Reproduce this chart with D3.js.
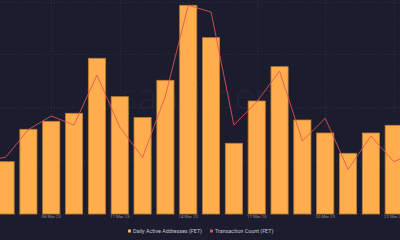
<!DOCTYPE html>
<html>
<head>
<meta charset="utf-8">
<script src="https://cdn.jsdelivr.net/npm/d3@7"></script>
<style>
  html, body { margin: 0; padding: 0; background: #1b1d2e; }
  svg { display: block; }
</style>
</head>
<body>
<svg width="400" height="240"></svg>
<script>
// dates shown (the chart is cropped, first and last day sit off the edges)
var dates = ["05 Mar 23","06 Mar 23","07 Mar 23","08 Mar 23","09 Mar 23","10 Mar 23","11 Mar 23",
             "12 Mar 23","13 Mar 23","14 Mar 23","15 Mar 23","16 Mar 23","17 Mar 23","18 Mar 23",
             "19 Mar 23","20 Mar 23","21 Mar 23","22 Mar 23","23 Mar 23","24 Mar 23"]
var tickDates = ["08 Mar 23","11 Mar 23","14 Mar 23","17 Mar 23","20 Mar 23","23 Mar 23"]

var activeAddresses = [560, 523, 847, 927, 1007, 1557, 1173, 965, 1337, 2087,
                       1763, 707, 1130, 1473, 940, 810, 607, 810, 887, 900]
var txCount = [1060, 1134, 1690, 1960, 1780, 2780, 1740, 1130, 2360, 4174,
               4040, 1780, 2240, 2860, 1460, 1914, 894, 1560, 1046, 1240]

var width = 400
var height = 240
var bottom = 214

var svg = d3.select("svg")

var x = d3.scaleBand()
    .domain(dates)
    .range([-28.65, 427.95])
    .paddingInner(0.25)
    .paddingOuter(0.125)

var yBar = d3.scaleLinear().domain([0, 2140]).range([bottom, 0])
var yLine = d3.scaleLinear().domain([0, 4280]).range([bottom, 0])

// faint dotted grid
var grid = svg.append("g")
grid.selectAll("line.h")
    .data([0, 535, 1070, 1605, 2120])
    .enter().append("line")
    .attr("x1", 0).attr("x2", width)
    .attr("y1", function(d) { return Math.round(yBar(d)) + 0.5 })
    .attr("y2", function(d) { return Math.round(yBar(d)) + 0.5 })
    .attr("stroke", "#2a2d40")
    .attr("stroke-dasharray", "1,2")
grid.selectAll("line.v")
    .data(tickDates)
    .enter().append("line")
    .attr("x1", function(d) { return Math.round(x(d) + x.bandwidth() / 2) + 0.5 })
    .attr("x2", function(d) { return Math.round(x(d) + x.bandwidth() / 2) + 0.5 })
    .attr("y1", 0).attr("y2", bottom)
    .attr("stroke", "#2a2d40")
    .attr("stroke-dasharray", "1,2")

// watermark
svg.append("text")
    .attr("x", 206)
    .attr("y", 109)
    .attr("text-anchor", "middle")
    .attr("font-family", "Lato, sans-serif")
    .attr("font-weight", 300)
    .attr("font-size", 38)
    .attr("letter-spacing", 1)
    .attr("fill", "rgba(255,255,255,0.045)")
    .text("santiment")

// bars
svg.append("g")
    .selectAll("rect")
    .data(activeAddresses)
    .enter().append("rect")
    .attr("x", function(d, i) { return x(dates[i]) })
    .attr("y", function(d) { return yBar(d) })
    .attr("width", x.bandwidth())
    .attr("height", function(d) { return bottom - yBar(d) })
    .attr("fill", "#ffad4d")
    .attr("stroke", "#b97c38")
    .attr("stroke-width", 0.8)

// transaction count line
var line = d3.line()
    .x(function(d, i) { return x(dates[i]) + x.bandwidth() / 2 })
    .y(function(d) { return yLine(d) })

svg.append("path")
    .datum(txCount)
    .attr("d", line)
    .attr("fill", "none")
    .attr("stroke", "#e0525a")
    .attr("stroke-opacity", 0.85)
    .attr("stroke-width", 1)

// x axis labels
var xAxis = d3.axisBottom(x).tickValues(tickDates).tickSize(0).tickPadding(1)
var ax = svg.append("g")
    .attr("transform", "translate(0," + bottom + ")")
    .call(xAxis)
ax.select(".domain").remove()
ax.selectAll("text")
    .attr("fill", "#8b8e9c")
    .attr("font-family", "Roboto, sans-serif")
    .attr("font-size", 4.3)

// legend
var legendItems = [
    {label: "Daily Active Addresses (FET)", color: "#ffad4d", x: 128},
    {label: "Transaction Count (FET)", color: "#e0525a", x: 210}
]
var legend = svg.append("g")
legendItems.forEach(function(item) {
    legend.append("rect")
        .attr("x", item.x).attr("y", 229.5)
        .attr("width", 3).attr("height", 3)
        .attr("fill", item.color)
    legend.append("text")
        .attr("x", item.x + 5).attr("y", 233)
        .attr("font-family", "Roboto, sans-serif")
        .attr("font-size", 5.4)
        .attr("fill", "#c4c6cf")
        .text(item.label)
})
</script>
</body>
</html>
